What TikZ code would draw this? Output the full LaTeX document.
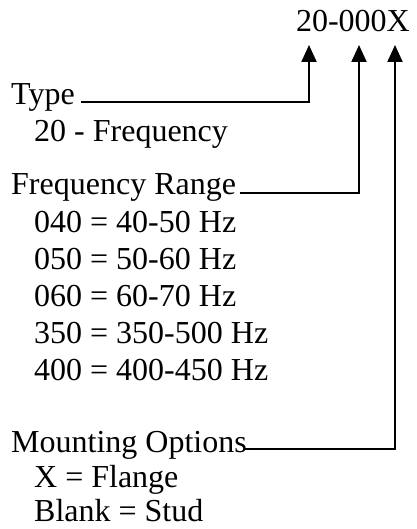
\documentclass[tikz,border=0pt]{standalone}
\usepackage{fontspec}
\setmainfont{Liberation Serif}
\usetikzlibrary{arrows.meta}

\begin{document}
\begin{tikzpicture}[x=1pt,y=-1pt,
 txt/.style={anchor=base west,inner sep=0pt,font=\fontsize{32}{37}\selectfont},
 ar/.style={-{Triangle[length=17pt,width=15pt]},line width=2.2pt,color=black}]
 \useasboundingbox (0,0) rectangle (416,529);
 % part number
 \node[txt,anchor=base east] (code) at (410,32) {20-000X};
 \coordinate (pA) at (309,45);
 \coordinate (pB) at (359,45);
 \coordinate (pC) at (395,45);
 % fields
 \node[txt] (type) at (11,105) {Type};
 \node[txt] (typev) at (34,142) {20 - Frequency};
 \node[txt] (range) at (11,195) {Frequency Range};
 \foreach \v/\r [count=\i] in {040/40-50,050/50-60,060/60-70,350/350-500,400/400-450}
  \node[txt] (r\v) at (34,{195+37*\i}) {\v{} = \r{} Hz};
 \node[txt] (mount) at (11,452) {Mounting Options};
 \node[txt] (flange) at (34,487) {X = Flange};
 \node[txt] (stud) at (34,521) {Blank = Stud};
 % leaders
 \draw[ar] ([xshift=6pt,yshift=3pt]type.base east) -| (pA);
 \draw[ar] ([xshift=4pt,yshift=2pt]range.base east) -| (pB);
 \draw[ar] ([xshift=-3pt,yshift=3pt]mount.base east) -| (pC);
\end{tikzpicture}
\end{document}
